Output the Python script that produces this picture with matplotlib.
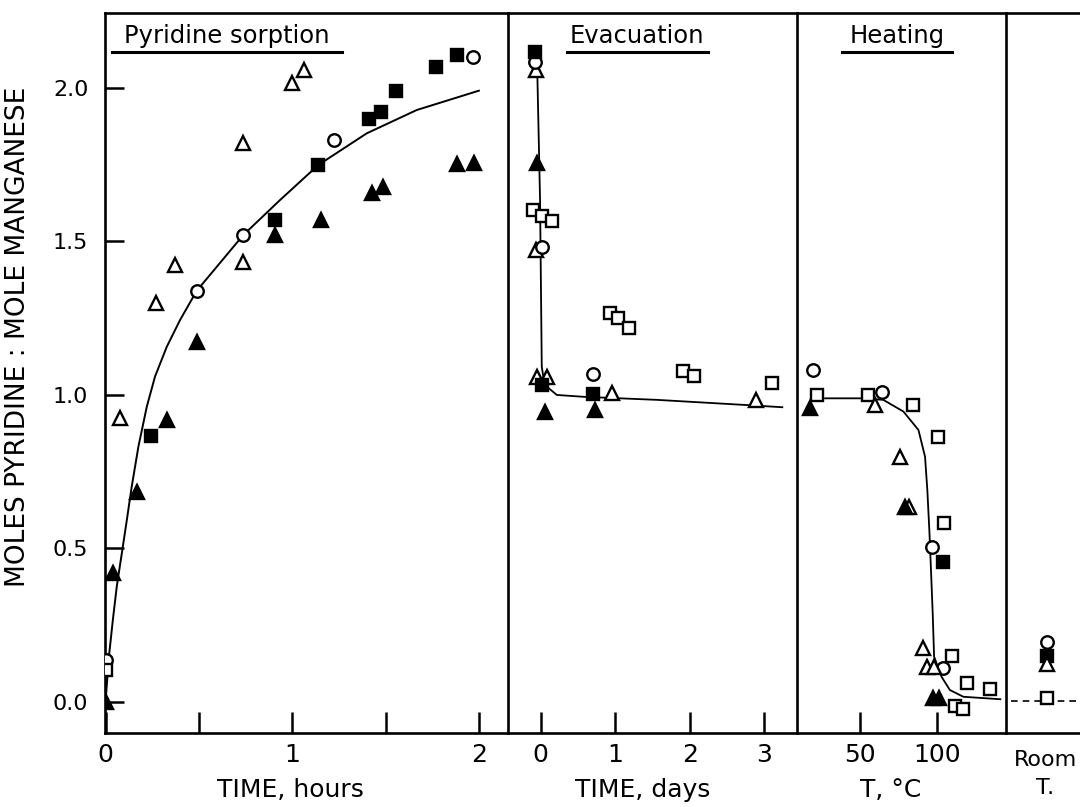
import numpy as np
import matplotlib.pyplot as plt
from matplotlib.lines import Line2D

plt.rcParams['font.family'] = ['DejaVu Sans']

# ---- panel 1: pyridine sorption, time in hours
sorp_open_tri_x = [1.0, 1.065, 0.738, 0.372, 0.27, 0.738, 0.078]
sorp_open_tri_y = [2.015, 2.059, 1.82, 1.423, 1.30, 1.434, 0.924]
sorp_open_circ_x = [0.488, 0.738, 1.226, 1.97, 0.0]
sorp_open_circ_y = [1.339, 1.521, 1.831, 2.102, 0.137]
sorp_open_sq_x = [0.0]
sorp_open_sq_y = [0.104]
sorp_fill_sq_x = [1.14, 0.908, 1.413, 1.476, 1.556, 1.770, 1.884, 0.242]
sorp_fill_sq_y = [1.749, 1.570, 1.899, 1.923, 1.991, 2.069, 2.107, 0.866]
sorp_fill_tri_x = [0.908, 1.153, 1.426, 1.485, 1.884, 1.974, 0.488, 0.328, 0.167, 0.039, 0.0]
sorp_fill_tri_y = [1.521, 1.570, 1.657, 1.677, 1.752, 1.757, 1.174, 0.919, 0.685, 0.419, 0.0]
sorp_curve_x = [0, 0.006, 0.02, 0.039, 0.06, 0.087, 0.114, 0.14, 0.176, 0.221, 0.265,
                0.328, 0.399, 0.488, 0.738, 0.935, 1.14, 1.399, 1.667, 2.0]
sorp_curve_y = [0, 0.05, 0.159, 0.267, 0.376, 0.484, 0.593, 0.701, 0.832, 0.962, 1.06,
                1.157, 1.244, 1.339, 1.521, 1.635, 1.749, 1.852, 1.928, 1.991]

# ---- panel 2: evacuation, time in days
evac_open_tri_x = [-0.06, -0.07, -0.054, 0.081, 0.956, 2.884]
evac_open_tri_y = [2.059, 1.472, 1.06, 1.06, 1.006, 0.984]
evac_open_circ_x = [-0.077, 0.013, 0.70]
evac_open_circ_y = [2.086, 1.483, 1.068]
evac_open_sq_x = [-0.1, 0.013, 0.148, 0.932, 1.03, 1.178, 1.911, 2.054, 3.096]
evac_open_sq_y = [1.603, 1.583, 1.565, 1.266, 1.25, 1.217, 1.078, 1.062, 1.04]
evac_fill_sq_x = [-0.077, 0.013, 0.70]
evac_fill_sq_y = [2.118, 1.033, 1.003]
evac_fill_tri_x = [-0.054, 0.058, 0.731]
evac_fill_tri_y = [1.755, 0.946, 0.951]
evac_curve_x = [-0.046, -0.01, 0.013, 0.04, 0.081, 0.215, 0.573, 1.56, 2.77, 3.24]
evac_curve_y = [2.04, 1.635, 1.092, 1.05, 1.027, 1.0, 0.994, 0.984, 0.967, 0.96]

# ---- panel 3: heating, temperature in C
heat_open_circ_x = [19.5, 64.2, 96.8, 103.9]
heat_open_circ_y = [1.081, 1.011, 0.506, 0.11]
heat_open_sq_x = [21.7, 55.4, 84.8, 101.1, 104.8, 109.8, 119.6, 134.8, 112, 117]
heat_open_sq_y = [1.0, 1.0, 0.967, 0.864, 0.584, 0.150, 0.061, 0.041, -0.013, -0.024]
heat_fill_sq_x = [104.3]
heat_fill_sq_y = [0.457]
heat_open_tri_x = [59.8, 76.1, 82, 91.3, 93.5, 98.5]
heat_open_tri_y = [0.967, 0.799, 0.636, 0.175, 0.115, 0.115]
heat_fill_tri_x = [17.4, 79.5, 97.8, 101.5]
heat_fill_tri_y = [0.957, 0.636, 0.012, 0.012]
heat_curve_x = [27.2, 51.1, 65.2, 78.3, 88.1, 92.4, 93.9, 95.2, 96.1, 97.4, 98.3,
                103.2, 108.6, 117.4, 141.5]
heat_curve_y = [0.989, 0.989, 0.984, 0.946, 0.886, 0.799, 0.69, 0.56, 0.452, 0.289,
                0.148, 0.082, 0.039, 0.017, 0.009]

# ---- panel 4: back at room temperature
room_x = 0.55
room_open_circ_y = [0.196]
room_fill_sq_y = [0.15]
room_open_tri_y = [0.125]
room_open_sq_y = [0.012]
room_dash_x = [0.07, 1.0]
room_dash_y = [0.003, 0.003]

W, H = 1080, 807
fig = plt.figure(figsize=(W / 100, H / 100), dpi=100)


def box(x0, x1):
    return [x0 / W, 1 - 733 / H, (x1 - x0) / W, (733 - 13) / H]


ax1 = fig.add_axes(box(105, 508))
ax2 = fig.add_axes(box(508, 797), sharey=ax1)
ax3 = fig.add_axes(box(797, 1006), sharey=ax1)
ax4 = fig.add_axes(box(1006, 1080), sharey=ax1)

ms = 9
mew = 1.7
open_circ = dict(ls='none', marker='o', mfc='white', mec='black', ms=ms, mew=mew, zorder=3)
open_sq = dict(ls='none', marker='s', mfc='white', mec='black', ms=ms - 0.5, mew=mew, zorder=3)
open_tri = dict(ls='none', marker='^', mfc='white', mec='black', ms=ms + 0.5, mew=mew, zorder=3)
fill_sq = dict(ls='none', marker='s', mfc='black', mec='black', ms=ms - 0.5, mew=mew, zorder=3)
fill_tri = dict(ls='none', marker='^', mfc='black', mec='black', ms=ms + 0.5, mew=mew, zorder=3)

ax1.plot(sorp_curve_x, sorp_curve_y, color='black', lw=1.4, zorder=2)
ax1.plot(sorp_open_tri_x, sorp_open_tri_y, **open_tri)
ax1.plot(sorp_open_circ_x, sorp_open_circ_y, **open_circ)
ax1.plot(sorp_open_sq_x, sorp_open_sq_y, **open_sq)
ax1.plot(sorp_fill_sq_x, sorp_fill_sq_y, **fill_sq)
ax1.plot(sorp_fill_tri_x, sorp_fill_tri_y, **fill_tri)

ax2.plot(evac_curve_x, evac_curve_y, color='black', lw=1.3, zorder=2)
ax2.plot(evac_open_tri_x, evac_open_tri_y, **open_tri)
ax2.plot(evac_open_circ_x, evac_open_circ_y, **open_circ)
ax2.plot(evac_open_sq_x, evac_open_sq_y, **open_sq)
ax2.plot(evac_fill_sq_x, evac_fill_sq_y, **fill_sq)
ax2.plot(evac_fill_tri_x, evac_fill_tri_y, **fill_tri)

ax3.plot(heat_curve_x, heat_curve_y, color='black', lw=1.3, zorder=2)
ax3.plot(heat_open_circ_x, heat_open_circ_y, **open_circ)
ax3.plot(heat_open_sq_x, heat_open_sq_y, **open_sq)
ax3.plot(heat_fill_sq_x, heat_fill_sq_y, **fill_sq)
ax3.plot(heat_open_tri_x, heat_open_tri_y, **open_tri)
ax3.plot(heat_fill_tri_x, heat_fill_tri_y, **fill_tri)

ax4.plot(room_dash_x, room_dash_y, color='black', lw=1.2, ls=(0, (4, 3)), zorder=2)
ax4.plot([room_x], room_open_circ_y, **open_circ)
ax4.plot([room_x], room_fill_sq_y, **fill_sq)
ax4.plot([room_x], room_open_tri_y, **open_tri)
ax4.plot([room_x], room_open_sq_y, **open_sq)

ax1.set_ylim(-0.101, 2.244)
ax1.set_xlim(-0.003, 2.156)
ax2.set_xlim(-0.44, 3.437)
ax3.set_xlim(8.9, 145.2)
ax4.set_xlim(0, 1)

ax1.set_yticks([0, 0.5, 1.0, 1.5, 2.0])
ax1.set_yticklabels(['0.0', '0.5', '1.0', '1.5', '2.0'])
ax1.set_xticks([0, 0.5, 1, 1.5, 2])
ax1.set_xticklabels(['0', '', '1', '', '2'])
ax2.set_xticks([0, 1, 2, 3])
ax2.set_xticklabels(['0', '1', '2', '3'])
ax3.set_xticks([50, 100])
ax3.set_xticklabels(['50', '100'])
ax4.set_xticks([0.53])
ax4.set_xticklabels(['Room'])

for ax in (ax1, ax2, ax3, ax4):
    for side in ('left', 'top', 'bottom'):
        ax.spines[side].set_linewidth(1.9)
    ax.spines['right'].set_visible(False)
    ax.tick_params(axis='x', direction='in', length=15, width=1.8, pad=7, labelsize=18)
    ax.tick_params(axis='y', direction='in', length=14, width=1.8, pad=12, labelsize=16)
    if ax is not ax1:
        ax.tick_params(axis='y', left=False, labelleft=False)
ax4.tick_params(axis='x', length=0, labelsize=16, pad=12)

ax1.set_ylabel('MOLES PYRIDINE : MOLE MANGANESE', fontsize=19)
ax1.yaxis.set_label_coords(-0.183, 0.55)

ax1.set_xlabel('TIME, hours', fontsize=18)
ax2.set_xlabel('TIME, days', fontsize=18)
ax3.set_xlabel('T, °C', fontsize=18)
ax4.set_xlabel('T.', fontsize=16)
ax1.xaxis.set_label_coords(0.46, -0.062)
ax2.xaxis.set_label_coords(0.467, -0.062)
ax3.xaxis.set_label_coords(0.45, -0.062)
ax4.xaxis.set_label_coords(0.53, -0.062)

# underlined panel titles
titles = [('Pyridine sorption', 227, 112, 342),
          ('Evacuation', 637, 567, 708),
          ('Heating', 897, 842, 952)]
for label, xc, u0, u1 in titles:
    fig.text(xc / W, 1 - 43 / H, label, fontsize=17.5, ha='center', va='baseline')
    fig.add_artist(Line2D([u0 / W, u1 / W], [1 - 52 / H, 1 - 52 / H],
                          color='black', lw=2.2))

fig.savefig('out.png', dpi=100)
